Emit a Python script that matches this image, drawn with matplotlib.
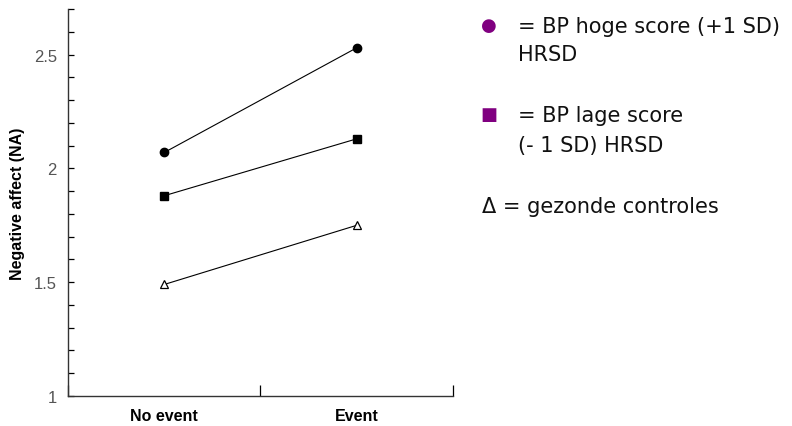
"""Negative affect by event condition for three groups."""

import matplotlib

matplotlib.use("Agg")
import matplotlib.pyplot as plt
from matplotlib.ticker import MultipleLocator

conditions = ["No event", "Event"]
bp_high = [2.07, 2.53]
bp_low = [1.88, 2.13]
controls = [1.49, 1.75]

legend_lines = [
    ("= BP hoge score (+1 SD)", "HRSD"),
    ("= BP lage score", "(- 1 SD) HRSD"),
]

fig = plt.figure(figsize=(7.92, 4.27), dpi=100)
ax = fig.add_axes([0.0859, 0.0703, 0.486, 0.906])

xs = list(range(len(conditions)))
ax.plot(xs, bp_high, color="black", lw=0.8, marker="o", ms=6, mfc="black", mec="black")
ax.plot(xs, bp_low, color="black", lw=0.8, marker="s", ms=6, mfc="black", mec="black")
ax.plot(xs, controls, color="black", lw=0.8, marker="^", ms=6, mfc="white", mec="black", mew=0.9)

ax.set_xlim(-0.5, 1.5)
ax.set_ylim(1, 2.7)
ax.set_xticks([-0.5, 0.5, 1.5])
ax.set_xticklabels([])
ax.set_xticks(xs, minor=True)
ax.set_xticklabels(conditions, minor=True, fontsize=11.5, fontweight="bold",
                   family="Liberation Sans")
ax.tick_params(axis="x", which="minor", length=0, pad=9)
ax.tick_params(axis="x", which="major", direction="in", length=8, width=0.9)

ax.yaxis.set_major_locator(MultipleLocator(0.5))
ax.yaxis.set_minor_locator(MultipleLocator(0.1))
ax.set_yticks([1, 1.5, 2, 2.5])
ax.set_yticklabels(["1", "1.5", "2", "2.5"], family="Liberation Sans", fontsize=12,
                   color="#555555")
ax.tick_params(axis="y", which="both", direction="in", length=4, width=0.9, pad=8)
ax.set_ylabel("Negative affect (NA)", fontsize=11.5, fontweight="bold",
              family="Liberation Sans", labelpad=6)

for side in ("top", "right"):
    ax.spines[side].set_visible(False)
for side in ("left", "bottom"):
    ax.spines[side].set_linewidth(1.0)
    ax.spines[side].set_color("#333333")

# legend written as text on the right
purple = "#800080"
fig.text(489 / 792, 1 - 26 / 427, "\u25cf", color=purple, fontsize=13, ha="center", va="center")
fig.text(489 / 792, 1 - 115 / 427, "\u25a0", color=purple, fontsize=13, ha="center", va="center")
font_kw = dict(fontsize=15, family="DejaVu Sans", va="center", color="#111111")
fig.text(518 / 792, 1 - 27 / 427, legend_lines[0][0], **font_kw)
fig.text(518 / 792, 1 - 55 / 427, legend_lines[0][1], **font_kw)
fig.text(518 / 792, 1 - 116 / 427, legend_lines[1][0], **font_kw)
fig.text(518 / 792, 1 - 146 / 427, legend_lines[1][1], **font_kw)
fig.text(482 / 792, 1 - 207 / 427, "\u0394 = gezonde controles", **font_kw)

fig.savefig("out.png", dpi=100)
